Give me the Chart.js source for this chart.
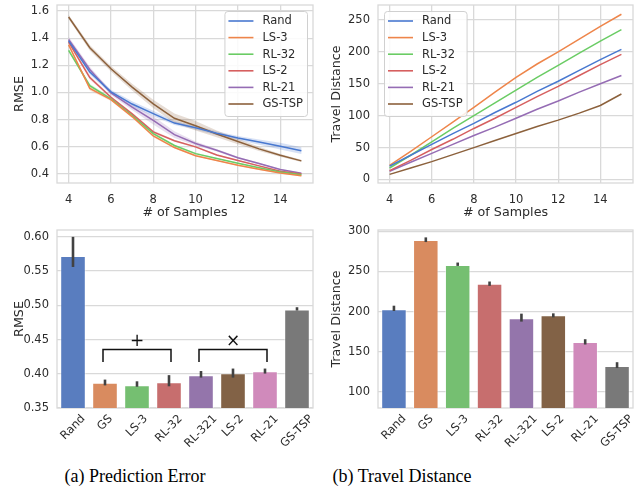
<!DOCTYPE html>
<html><head><meta charset="utf-8">
<script src="https://cdn.jsdelivr.net/npm/chart.js@4.4.1/dist/chart.umd.min.js"></script>
<style>
html,body{margin:0;padding:0;background:#fff;}
body{width:634px;height:493px;position:relative;overflow:hidden;}
canvas{position:absolute;display:block;}
.cap{position:absolute;font-family:"Liberation Serif","Times New Roman",serif;font-size:18px;line-height:20px;color:#000;transform:translateX(-50%);white-space:nowrap;}
</style></head><body>
<canvas id="c1" width="317" height="225" style="left:0;top:0"></canvas>
<canvas id="c2" width="317" height="225" style="left:317px;top:0"></canvas>
<canvas id="c3" width="317" height="235" style="left:0;top:225px"></canvas>
<canvas id="c4" width="317" height="235" style="left:317px;top:225px"></canvas>
<div class="cap" style="left:135px;top:466px">(a) Prediction Error</div>
<div class="cap" style="left:402px;top:466px">(b) Travel Distance</div>
<script>
// ---------- DATA ----------
const samples = [4,5,6,7,8,9,10,11,12,13,14,15];
const lineNames = ['Rand','LS-3','RL-32','LS-2','RL-21','GS-TSP'];
const rmseRand  = [1.38,1.15,1.005,0.915,0.845,0.775,0.74,0.70,0.665,0.635,0.605,0.572];
const rmseLS3   = [1.35,1.03,0.948,0.823,0.68,0.595,0.535,0.50,0.465,0.435,0.408,0.387];
const rmseRL32  = [1.31,1.05,0.953,0.831,0.697,0.61,0.55,0.515,0.48,0.447,0.415,0.395];
const rmseLS2   = [1.37,1.11,0.965,0.843,0.71,0.645,0.60,0.54,0.50,0.46,0.42,0.40];
const rmseRL21  = [1.39,1.17,0.997,0.892,0.795,0.69,0.625,0.575,0.52,0.477,0.433,0.405];
const rmseGSTSP = [1.556,1.33,1.175,1.04,0.916,0.81,0.755,0.695,0.64,0.585,0.538,0.497];
const rmseErrRand  = [0.01,0.02,0.015,0.02,0.02,0.015,0.015,0.015,0.015,0.02,0.025,0.025];
const rmseErrLS3   = [0.01,0.015,0.01,0.01,0.01,0.008,0.006,0.005,0.005,0.005,0.005,0.005];
const rmseErrRL32  = [0.012,0.015,0.01,0.01,0.01,0.008,0.006,0.005,0.005,0.005,0.005,0.005];
const rmseErrLS2   = [0.01,0.015,0.01,0.01,0.01,0.008,0.006,0.005,0.005,0.005,0.005,0.005];
const rmseErrRL21  = [0.02,0.02,0.015,0.02,0.03,0.025,0.015,0.01,0.008,0.006,0.005,0.005];
const rmseErrGSTSP = [0.015,0.02,0.02,0.025,0.03,0.035,0.035,0.025,0.02,0.015,0.01,0.008];
const distRand  = [21,38,55,72,88,105,121,138,154,171,188,204];
const distLS3   = [22,44,67,90,113,137,160,181,200,220,240,259];
const distRL32  = [18,38,59,80,100,120,140,160,179,198,217,235];
const distLS2   = [14,30,47,63,80,96,113,130,146,163,180,196];
const distRL21  = [13,27,41,55,69,82,96,110,123,137,150,163];
const distGSTSP = [8,18,28,39,50,61,72,83,93,104,116,134];
const barCategories = ['Rand','GS','LS-3','RL-32','RL-321','LS-2','RL-21','GS-TSP'];
const barRmse     = [0.572,0.387,0.3833,0.3876,0.398,0.4007,0.4037,0.494];
const barRmseLow  = [0.556,0.383,0.381,0.3817,0.3944,0.3944,0.4003,0.4924];
const barRmseHigh = [0.600,0.3915,0.389,0.398,0.404,0.4076,0.4076,0.4972];
const barDist     = [203,289,258,234.5,191.6,195.3,162,132.2];
const barDistLow  = [200.7,286.5,256.8,232,187.5,192.8,159,129.7];
const barDistHigh = [207.3,292.3,261,237.4,197.4,197.8,165.6,137];
const sampleTicks = [4,6,8,10,12,14];
const rmseLineTicks = [0.4,0.6,0.8,1.0,1.2,1.4,1.6];
const distLineTicks = [0,50,100,150,200,250];
const rmseBarTicks = [0.35,0.40,0.45,0.50,0.55,0.60];
const distBarTicks = [100,150,200,250,300];
const bracketGroups = [{from:1,to:3,symbol:'+'},{from:4,to:6,symbol:'\u00D7'}];

// ---------- STYLE ----------
const lineColors = ['#4878d0','#ee854a','#6acc64','#d65f5f','#956cb4','#8c613c'];
const barColors = ['#597dbf','#d98b5f','#75bf71','#c76e6e','#9475ab','#826246','#d08abb','#797979'];
const GRID = '#d9d9d9';
const TXT = '#2b2b2b';
Chart.defaults.font.family = '"DejaVu Sans", sans-serif';
Chart.defaults.font.size = 11.5;
Chart.defaults.color = TXT;
Chart.defaults.animation = false;

function hexA(hex,a){const n=parseInt(hex.slice(1),16);return `rgba(${n>>16&255},${n>>8&255},${n&255},${a})`;}

const boxPlugin = {
  id:'box',
  beforeDatasetsDraw(chart){
    const {ctx,chartArea:ca}=chart;
    ctx.save();ctx.strokeStyle=GRID;ctx.lineWidth=1.3;
    ctx.strokeRect(ca.left,ca.top,ca.right-ca.left,ca.bottom-ca.top);
    ctx.restore();
  }
};
const bandPlugin = {
  id:'bands',
  beforeDatasetsDraw(chart){
    const {ctx,chartArea:ca,scales}=chart;
    ctx.save();
    ctx.beginPath();ctx.rect(ca.left,ca.top,ca.right-ca.left,ca.bottom-ca.top);ctx.clip();
    chart.data.datasets.forEach(ds=>{
      if(!ds.err) return;
      const pts=ds.data;
      ctx.beginPath();
      pts.forEach((p,i)=>{const x=scales.x.getPixelForValue(p.x),y=scales.y.getPixelForValue(p.y+ds.err[i]);i?ctx.lineTo(x,y):ctx.moveTo(x,y);});
      for(let i=pts.length-1;i>=0;i--){ctx.lineTo(scales.x.getPixelForValue(pts[i].x),scales.y.getPixelForValue(pts[i].y-ds.err[i]));}
      ctx.closePath();ctx.fillStyle=hexA(ds.borderColor,0.22);ctx.fill();
    });
    ctx.restore();
  }
};
const legendPlugin = {
  id:'cornerLegend',
  afterDraw(chart,args,opts){
    if(!opts.corner) return;
    const {ctx,chartArea:ca}=chart;
    const items=chart.data.datasets;
    ctx.save();
    ctx.font='11.5px "DejaVu Sans", sans-serif';
    const tw=Math.max(...items.map(d=>ctx.measureText(d.label).width));
    const pad=4,handle=25,gap=9,row=16.6;
    const w=pad+handle+gap+tw+pad, h=10+(items.length-1)*row+12;
    const x=opts.corner==='right'?ca.right-6-w:ca.left+6, y=ca.top+6;
    ctx.beginPath();
    if(ctx.roundRect) ctx.roundRect(x+0.5,y+0.5,w,h,3); else ctx.rect(x+0.5,y+0.5,w,h);
    ctx.fillStyle='rgba(255,255,255,0.85)';ctx.fill();
    ctx.strokeStyle='#d0d0d0';ctx.lineWidth=1;ctx.stroke();
    items.forEach((d,i)=>{
      const cy=y+10+i*row;
      ctx.strokeStyle=d.borderColor;ctx.lineWidth=1.6;
      ctx.beginPath();ctx.moveTo(x+pad,cy);ctx.lineTo(x+pad+handle,cy);ctx.stroke();
      ctx.fillStyle=TXT;ctx.textAlign='left';ctx.textBaseline='middle';
      ctx.fillText(d.label,x+pad+handle+gap,cy+0.5);
    });
    ctx.restore();
  }
};
const errPlugin = {
  id:'errbars',
  afterDatasetsDraw(chart,args,opts){
    if(!opts.low) return;
    const {ctx,scales}=chart;
    ctx.save();ctx.strokeStyle='#424242';ctx.lineWidth=2.6;ctx.lineCap='butt';
    opts.low.forEach((lo,i)=>{
      const x=scales.x.getPixelForValue(i);
      ctx.beginPath();ctx.moveTo(x,scales.y.getPixelForValue(lo));ctx.lineTo(x,scales.y.getPixelForValue(opts.high[i]));ctx.stroke();
    });
    ctx.restore();
  }
};
const rotLabelPlugin = {
  id:'rotLabels',
  afterDraw(chart,args,opts){
    if(!opts.labels) return;
    const {ctx,scales,chartArea:ca}=chart;
    ctx.save();
    ctx.font='11.5px "DejaVu Sans", sans-serif';ctx.fillStyle=TXT;
    ctx.textAlign='center';ctx.textBaseline='middle';
    opts.labels.forEach((lab,i)=>{
      const x=scales.x.getPixelForValue(i);
      const w=ctx.measureText(lab).width;
      const cy=ca.bottom+5+(w+11.5)*0.3536;
      ctx.save();ctx.translate(x,cy);ctx.rotate(-Math.PI/4);ctx.fillText(lab,0,0);ctx.restore();
    });
    ctx.restore();
  }
};
const bracketPlugin = {
  id:'brackets',
  afterDraw(chart,args,opts){
    if(!opts.groups) return;
    const {ctx,scales}=chart;
    const yTop=scales.y.getPixelForValue(opts.top), yEnd=scales.y.getPixelForValue(opts.end), ySym=scales.y.getPixelForValue(opts.sym);
    ctx.save();ctx.strokeStyle='#111';ctx.lineWidth=1.5;
    ctx.font='17px "DejaVu Sans", sans-serif';ctx.fillStyle='#111';ctx.textAlign='center';ctx.textBaseline='middle';
    opts.groups.forEach(g=>{
      const x1=scales.x.getPixelForValue(g.from)-2, x2=scales.x.getPixelForValue(g.to)+2;
      ctx.beginPath();ctx.moveTo(x1,yEnd);ctx.lineTo(x1,yTop);ctx.lineTo(x2,yTop);ctx.lineTo(x2,yEnd);ctx.stroke();
      ctx.fillText(g.symbol,(x1+x2)/2,ySym);
    });
    ctx.restore();
  }
};
Chart.register(boxPlugin,bandPlugin,legendPlugin,errPlugin,rotLabelPlugin,bracketPlugin);

function fixTicks(arr){return s=>{s.ticks=arr.map(v=>({value:v}));};}
function yFit(w){return s=>{s.width=w;s.paddingTop=0;s.paddingBottom=0;};}
function xFit(h){return s=>{s.height=h;s.paddingLeft=0;s.paddingRight=0;};}

function lineChart(id,series,errs,ymin,ymax,yticks,dec,ytitle,left,rightPad,corner){
  const datasets=series.map((vals,i)=>({
    label:lineNames[i],
    data:vals.map((v,j)=>({x:samples[j],y:v})),
    err:errs?errs[i]:null,
    borderColor:lineColors[i],backgroundColor:lineColors[i],borderWidth:1.5,pointRadius:0,tension:0
  }));
  new Chart(document.getElementById(id),{
    type:'line',
    data:{datasets},
    options:{responsive:false,animation:false,
      layout:{padding:{top:5,right:rightPad,left:0,bottom:0}},
      plugins:{legend:{display:false},tooltip:{enabled:false},cornerLegend:{corner}},
      scales:{
        x:{type:'linear',min:3.45,max:15.55,afterBuildTicks:fixTicks(sampleTicks),
          afterFit:xFit(225-183),
          grid:{color:GRID,lineWidth:1.3,drawTicks:false},border:{display:false},
          ticks:{padding:10,callback:v=>String(v)},
          title:{display:true,text:'# of Samples',font:{size:12.7},padding:{top:0,bottom:5}}},
        y:{min:ymin,max:ymax,afterBuildTicks:fixTicks(yticks),
          afterFit:yFit(left),
          grid:{color:GRID,lineWidth:1.3,drawTicks:false},border:{display:false},
          ticks:{padding:8,callback:v=>Number(v).toFixed(dec)},
          title:{display:true,text:ytitle,font:{size:12.7},padding:{top:12,bottom:0}}}
      }
    }
  });
}

lineChart('c1',[rmseRand,rmseLS3,rmseRL32,rmseLS2,rmseRL21,rmseGSTSP],
  [rmseErrRand,rmseErrLS3,rmseErrRL32,rmseErrLS2,rmseErrRL21,rmseErrGSTSP],
  0.334,1.644,rmseLineTicks,1,'RMSE',57,4,'right');
lineChart('c2',[distRand,distLS3,distRL32,distLS2,distRL21,distGSTSP],null,
  -5.5,273.5,distLineTicks,0,'Travel Distance',61,1,'left');

function barChart(id,vals,low,high,ymin,ymax,yticks,dec,ytitle,left,rightPad,brackets){
  new Chart(document.getElementById(id),{
    type:'bar',
    data:{labels:barCategories,datasets:[{data:vals,backgroundColor:barColors,borderColor:'rgba(255,255,255,0.55)',borderWidth:1,
      categoryPercentage:1,barPercentage:0.8}]},
    options:{responsive:false,animation:false,
      layout:{padding:{top:5,right:rightPad,left:0,bottom:0}},
      plugins:{legend:{display:false},tooltip:{enabled:false},
        errbars:{low,high},rotLabels:{labels:barCategories},
        brackets:brackets||{}},
      scales:{
        x:{afterFit:xFit(235-183),grid:{display:false},border:{display:false},ticks:{display:false}},
        y:{min:ymin,max:ymax,afterBuildTicks:fixTicks(yticks),afterFit:yFit(left),
          grid:{color:GRID,lineWidth:1.3,drawTicks:false},border:{display:false},
          ticks:{padding:8,callback:v=>Number(v).toFixed(dec)},
          title:{display:true,text:ytitle,font:{size:12.7},padding:{top:12,bottom:0}}}
      }
    }
  });
}
barChart('c3',barRmse,barRmseLow,barRmseHigh,0.35,0.61,rmseBarTicks,2,'RMSE',57,4,
  {groups:bracketGroups,top:0.4354,end:0.4173,sym:0.4468});
barChart('c4',barDist,barDistLow,barDistHigh,80,301.5,distBarTicks,0,'Travel Distance',61,1,null);
</script>
</body></html>
